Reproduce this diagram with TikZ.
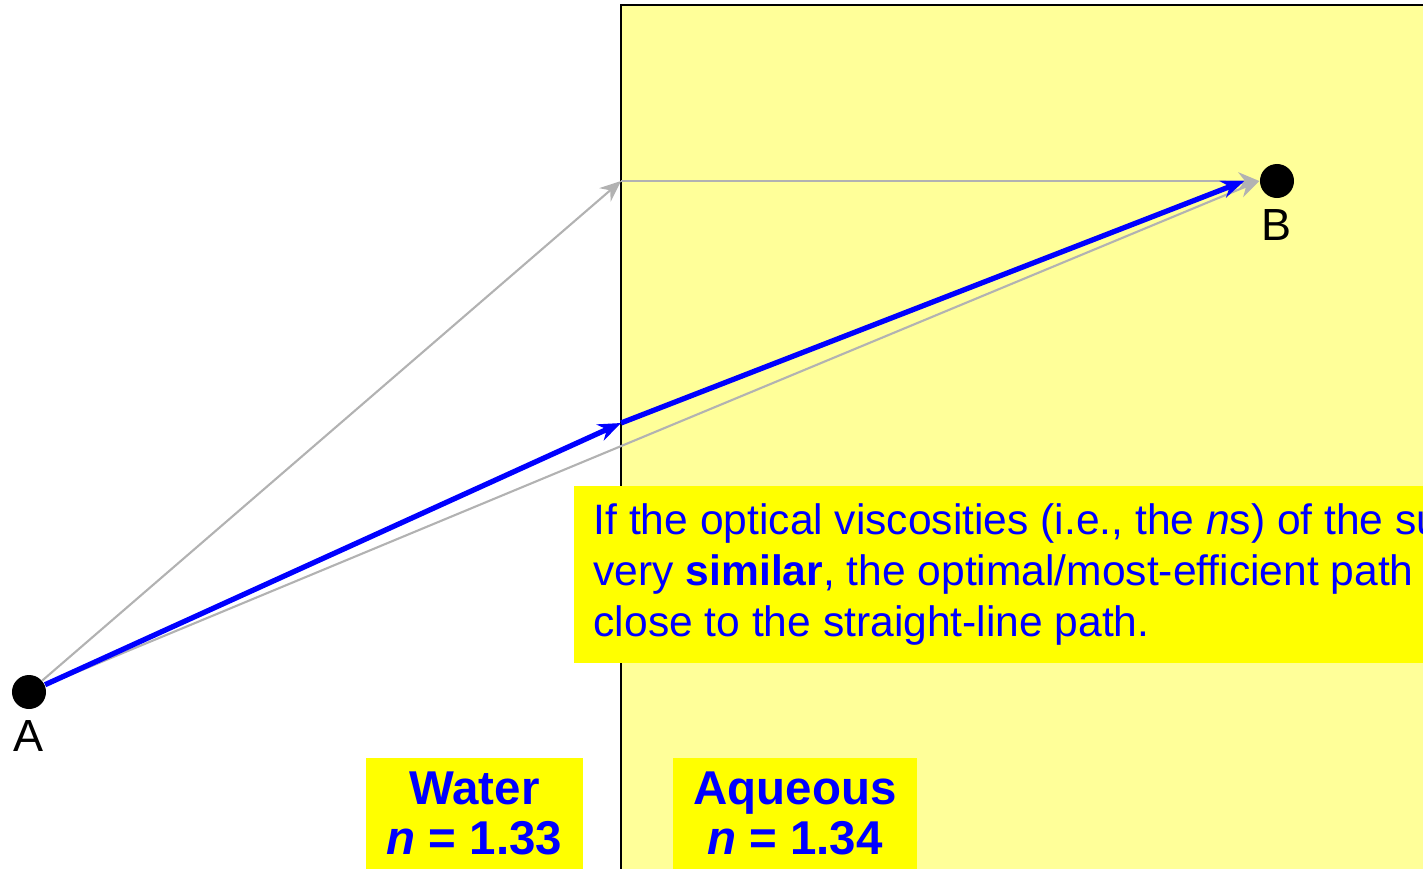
\documentclass[tikz,border=0pt]{standalone}
\usepackage{fontspec}
\setmainfont{Liberation Sans}
\usetikzlibrary{arrows.meta, positioning}
\definecolor{paleyellow}{RGB}{255,255,153}
\definecolor{boxyellow}{RGB}{255,255,0}
\definecolor{rayblue}{RGB}{0,0,255}
\definecolor{raygray}{RGB}{178,178,178}

\begin{document}
\begin{tikzpicture}[x=0.01cm, y=-0.01cm,
  dot/.style={circle, fill=black, minimum size=0.34cm, inner sep=0pt},
  dotlabel/.style={font=\fontsize{12.8}{15}\selectfont, inner sep=0pt, label distance=0.1cm},
  grayray/.style={draw=raygray, line width=0.6pt, -{Stealth[length=6pt, width=5pt]}},
  blueray/.style={draw=rayblue, line width=1.5pt, -{Stealth[length=6.5pt, width=5pt]}},
  tag/.style={fill=boxyellow, text=rayblue, font=\fontsize{13.5}{14.2}\selectfont\bfseries, align=center, inner xsep=0pt, inner ysep=4pt, anchor=north}]
  \useasboundingbox (0,0) rectangle (1423,869);
  \clip (0,0) rectangle (1423,869);

  % aqueous side
  \draw[fill=paleyellow, line width=0.8pt] (621,5) rectangle (1450,900);

  \node[dot, label={[dotlabel]below:A}] (A) at (29,692) {};
  \node[dot, label={[dotlabel]below:B}] (B) at (1277,181) {};
  \coordinate (corner) at (621,181);
  \coordinate (bend) at (621,423);

  % candidate paths
  \draw[grayray] (A) -- (corner);
  \draw[grayray] (corner) -- (B);
  \draw[grayray] (A) -- (B.west);
  % optimal path
  \draw[blueray] (A) -- (bend);
  \draw[blueray] (bend) -- ([xshift=-0.15cm]B.west);

  \node[fill=boxyellow, text=rayblue, anchor=north west, align=left, inner xsep=0.2cm, inner ysep=0.18cm,
        font=\fontsize{12.1}{14.5}\selectfont] (note) at (573,485)
    {If the optical viscosities (i.e., the \textit{n}s) of the substances are\\
     very \textbf{similar}, the optimal/most-efficient path is\\
     close to the straight-line path.};

  \node[tag, minimum width=2.17cm] (water) at (474.5,757) {Water\\\textit{n} = 1.33};
  \node[tag, minimum width=2.44cm] (aqueous) at (795,757) {Aqueous\\\textit{n} = 1.34};
\end{tikzpicture}
\end{document}
